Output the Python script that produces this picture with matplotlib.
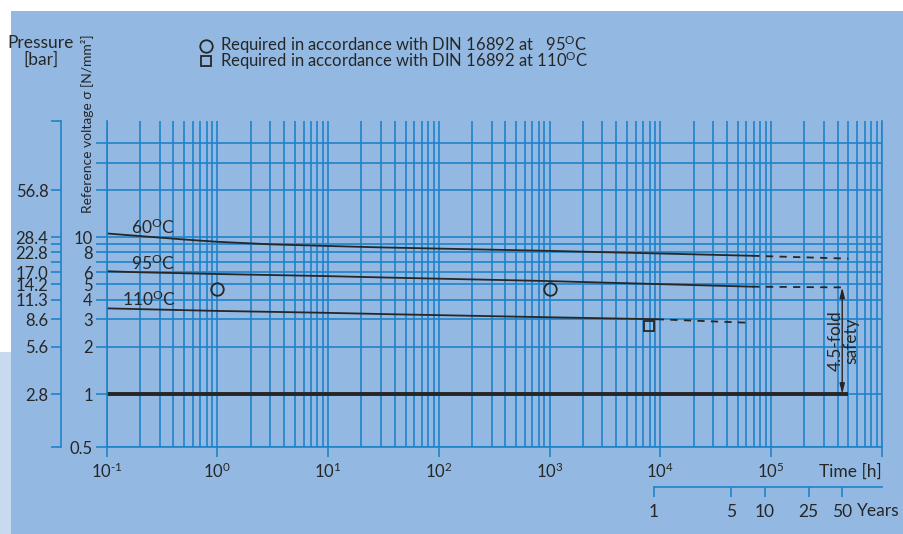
import numpy as np
import matplotlib
matplotlib.use("Agg")
import matplotlib.pyplot as plt
from matplotlib.patches import Rectangle
from matplotlib.ticker import NullLocator

plt.rcParams['font.family'] = ['Lato', 'DejaVu Sans']
plt.rcParams['mathtext.fontset'] = 'custom'
plt.rcParams['mathtext.rm'] = 'Lato'
plt.rcParams['mathtext.it'] = 'Lato:italic'
plt.rcParams['mathtext.bf'] = 'Lato:bold'

# ── Data ────────────────────────────────────────────────────────────────────
hours_60 = [0.1, 0.2, 0.5, 1, 3, 10, 30, 100, 1000, 1e4, 6.8e4]
stress_60 = [10.58, 10.18, 9.68, 9.36, 9.02, 8.8, 8.62, 8.47, 8.19, 7.88, 7.62]
hours_60_ext = [6.8e4, 5.0e5]
stress_60_ext = [7.62, 7.31]

hours_95 = [0.1, 0.2, 1, 9, 36, 940, 6.8e4]
stress_95 = [6.07, 5.98, 5.83, 5.66, 5.53, 5.26, 4.84]
hours_95_ext = [6.8e4, 4.4e5]
stress_95_ext = [4.84, 4.79]

hours_110 = [0.1, 0.2, 1, 9, 36, 940, 9300]
stress_110 = [3.52, 3.48, 3.39, 3.30, 3.23, 3.09, 3.00]
hours_110_ext = [9300, 6.2e4]
stress_110_ext = [3.00, 2.85]

hours_ref = [0.1, 5.0e5]
stress_ref = [1.0, 1.0]

req95_hours = [1, 1000]
req95_stress = [4.65, 4.65]
req110_hours = [7900]
req110_stress = [2.70]

safety_hours = 4.4e5
safety_top = 4.79
safety_bottom = 1.0

stress_ticks = [0.5, 1, 2, 3, 4, 5, 6, 7, 8, 9, 10, 20, 30, 40]
stress_labels = ['0.5', '1', '2', '3', '4', '5', '6', '', '8', '', '10', '', '', '']
y_top = 55.2

pressure_pos = [0.5, 1, 2, 3, 4, 5, 6, 7, 8, 9, 10, 20, y_top]
pressure_labels = ['', '2.8', '5.6', '8.6', '11.3', '14.2', '17.0', '', '22.8', '', '28.4', '56.8', '']

time_ticks = [0.1, 1, 10, 100, 1e3, 1e4, 1e5, 1e6]
time_labels = [r'$10^{\text{-}1}$', r'$10^{0}$', r'$10^{1}$', r'$10^{2}$', r'$10^{3}$',
               r'$10^{4}$', r'$10^{5}$', '']

year_ticks = [1, 5, 10, 25, 50]
year_labels = ['1', '5', '10', '25', '50']
HOURS_PER_YEAR = 8760

# ── Style ───────────────────────────────────────────────────────────────────
BG = '#93b9e3'
STRIP = '#c9daef'
GRID = '#1e82c8'
INK = '#262626'
K_LOW = 1.123  # the chart stretches the 0.5-1 band a little
FS = 12.5


def fwd(v):
    lv = np.log10(np.clip(np.asarray(v, float), 1e-9, None))
    return np.where(lv < 0, lv * K_LOW, lv)


def inv(u):
    u = np.asarray(u, float)
    return np.where(u < 0, 10 ** (u / K_LOW), 10 ** u)


fig = plt.figure(figsize=(9.04, 5.34), dpi=100, facecolor='white')
fig.add_artist(Rectangle((11 / 904, 0), 1, 1 - 11 / 534, transform=fig.transFigure,
                         facecolor=BG, edgecolor='none', zorder=-10))
fig.add_artist(Rectangle((0, 0), 11 / 904, 182 / 534, transform=fig.transFigure,
                         facecolor=STRIP, edgecolor='none', zorder=-10))

rect = [106.7 / 904, 87 / 534, 775 / 904, 326 / 534]
ax = fig.add_axes(rect)
ax.set_facecolor('none')
ax.set_xscale('log')
ax.set_yscale('function', functions=(fwd, inv))
ax.set_xlim(0.1, 1e6)
ax.set_ylim(0.5, y_top)

# grid
ax.set_xticks(time_ticks, labels=time_labels)
ax.set_yticks(stress_ticks, labels=stress_labels)
ax.yaxis.set_minor_locator(NullLocator())
ax.grid(which='both', axis='x', color=GRID, lw=1.2)
ax.grid(which='major', axis='y', color=GRID, lw=1.2)
ax.tick_params(axis='x', which='major', direction='out', length=7.5, width=1.2,
               color=GRID, labelsize=FS - 0.5, labelcolor=INK, pad=3)
ax.tick_params(axis='x', which='minor', length=0)
ax.tick_params(axis='y', direction='out', length=8, width=1.2, color=GRID,
               labelsize=12, labelcolor=INK, pad=2)
ax.spines['top'].set_visible(False)
for sp in ('left', 'right', 'bottom'):
    ax.spines[sp].set_color(GRID)
    ax.spines[sp].set_linewidth(1.2)

# curves
ax.plot(hours_60, stress_60, color=INK, lw=1.3)
ax.plot(hours_95, stress_95, color=INK, lw=1.3)
ax.plot(hours_110, stress_110, color=INK, lw=1.3)
for h, s in ((hours_60_ext, stress_60_ext), (hours_95_ext, stress_95_ext),
             (hours_110_ext, stress_110_ext)):
    ax.plot(h, s, color=INK, lw=1.3, ls=(0, (4, 3.5)))
ax.plot(hours_ref, stress_ref, color=INK, lw=2.8, solid_capstyle='butt')

ax.plot(req95_hours, req95_stress, 'o', ms=9, mfc='none', mec=INK, mew=1.3,
        label='Required in accordance with DIN 16892 at   95$^{\\rm O}$C')
ax.plot(req110_hours, req110_stress, 's', ms=7.5, mfc='none', mec=INK, mew=1.3,
        label='Required in accordance with DIN 16892 at 110$^{\\rm O}$C')

ax.text(0.262, 11.6, '60$^{\\rm O}$C', ha='center', va='center', fontsize=FS, color=INK)
ax.text(0.262, 6.85, '95$^{\\rm O}$C', ha='center', va='center', fontsize=FS, color=INK)
ax.text(0.239, 4.04, '110$^{\\rm O}$C', ha='center', va='center', fontsize=FS, color=INK)

# safety arrow
ax.annotate('', xy=(safety_hours, safety_bottom), xytext=(safety_hours, safety_top),
            arrowprops=dict(arrowstyle='<|-|>,head_length=0.6,head_width=0.15',
                            color=INK, lw=1.0, shrinkA=0, shrinkB=0))
ax.text(safety_hours * 1.03, 2.2, '4.5-fold\nsafety', rotation=90, ha='center', va='center',
        fontsize=FS, color=INK, linespacing=1.0)

leg = ax.legend(loc='upper left', bbox_to_anchor=(199 / 904, 1 - 34 / 534),
                bbox_transform=fig.transFigure, frameon=False, fontsize=12,
                handlelength=0.8, handletextpad=0.45, labelspacing=-0.4,
                borderpad=0, borderaxespad=0, labelcolor=INK)

xt = ax.get_xaxis_transform()
ax.text(1e6, -25 / 326, 'Time [h]', transform=xt, ha='right', va='center',
        fontsize=FS, color=INK)

# pressure axis
axp = fig.add_axes(rect)
axp.patch.set_visible(False)
axp.set_yscale('function', functions=(fwd, inv))
axp.set_ylim(0.5, y_top)
axp.set_xticks([])
for sp in ('top', 'right', 'bottom'):
    axp.spines[sp].set_visible(False)
axp.spines['left'].set_position(('outward', 33))
axp.spines['left'].set_color(GRID)
axp.spines['left'].set_linewidth(1.2)
axp.set_yticks(pressure_pos, labels=pressure_labels)
axp.yaxis.set_minor_locator(NullLocator())
axp.tick_params(axis='y', direction='out', length=7.5, width=1.2, color=GRID,
                labelsize=12, labelcolor=INK, pad=1.5)

# years axis
secax = ax.secondary_xaxis(-40 / 326, functions=(lambda h: np.asarray(h) / HOURS_PER_YEAR,
                                                 lambda y: np.asarray(y) * HOURS_PER_YEAR))
secax.set_xticks(year_ticks, labels=year_labels)
secax.xaxis.set_minor_locator(NullLocator())
secax.spines['bottom'].set_color(GRID)
secax.spines['bottom'].set_linewidth(1.2)
secax.spines['bottom'].set_bounds(1, 1e6 / HOURS_PER_YEAR)
secax.tick_params(axis='x', direction='out', length=7.5, width=1.2, color=GRID,
                  labelsize=FS, labelcolor=INK, pad=5)
ax.annotate('Years', xy=(50 * HOURS_PER_YEAR, -64 / 326), xycoords=xt,
            xytext=(10.5, 0), textcoords='offset points', ha='left', va='center',
            fontsize=FS, color=INK, annotation_clip=False)

fig.text(41 / 904, 1 - 43 / 534, 'Pressure', ha='center', va='center', fontsize=FS, color=INK)
fig.text(41 / 904, 1 - 60 / 534, '[bar]', ha='center', va='center', fontsize=FS, color=INK)
fig.text(87.5 / 904, 1 - 124 / 534, 'Reference voltage σ [N/mm²]', rotation=90,
         ha='center', va='center', fontsize=10, color=INK)

fig.savefig('out.png', dpi=100, facecolor=fig.get_facecolor())
